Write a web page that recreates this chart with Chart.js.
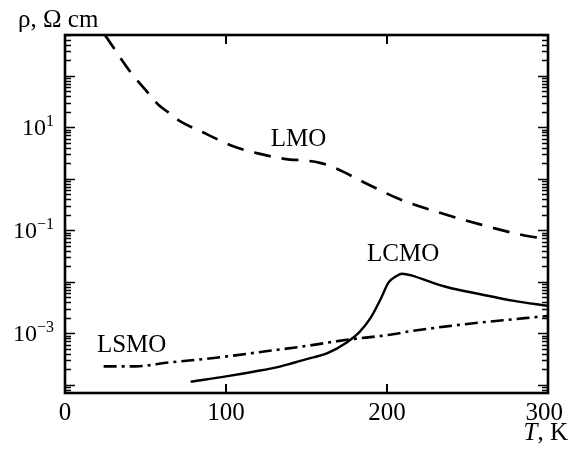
<!DOCTYPE html>
<html>
<head>
<meta charset="utf-8">
<script src="https://cdn.jsdelivr.net/npm/chart.js@4/dist/chart.umd.min.js"></script>
<style>
  html, body { margin: 0; padding: 0; background: #fff; }
  #wrap { width: 574px; height: 453px; position: relative; }
</style>
</head>
<body>
<div id="wrap"><canvas id="c"></canvas></div>
<script>
// ---- data ----
const lmoT   = [24.8, 40.4, 51.7, 58, 64, 71.4, 88, 104.5, 121.1, 139.8, 147.8, 158.4, 167.7, 187.4, 208, 232.9, 257.8, 282.6, 300];
const lmoRho = [615, 120, 45.8, 27.2, 19.5, 13.1, 7.33, 4.25, 3.03, 2.35, 2.28, 2.03, 1.61, 0.80, 0.40, 0.219, 0.130, 0.083, 0.067];

const lcmoT   = [78, 100, 117, 134, 150, 163, 175, 183, 190, 196, 201, 205.6, 209.3, 216, 227, 237, 258, 279, 300];
const lcmoRho = [1.16e-4, 1.47e-4, 1.81e-4, 2.30e-4, 3.18e-4, 4.16e-4, 6.70e-4, 1.07e-3, 2.04e-3, 4.61e-3, 9.8e-3, 1.28e-2, 1.44e-2, 1.31e-2, 9.95e-3, 7.96e-3, 5.75e-3, 4.27e-3, 3.42e-3];

const lsmoT   = [24, 44, 65, 86, 107, 127, 148, 175, 200, 216, 237, 258, 279, 300];
const lsmoRho = [2.30e-4, 2.30e-4, 2.75e-4, 3.18e-4, 3.80e-4, 4.61e-4, 5.61e-4, 7.52e-4, 9.27e-4, 1.12e-3, 1.37e-3, 1.63e-3, 1.89e-3, 2.19e-3];

const seriesNames = ['LMO', 'LCMO', 'LSMO'];
// label anchor points in data coordinates (T, rho)
const labelT   = [145, 210, 41.4];
const labelRho = [4.25, 0.025, 4.35e-4];

const xTickValues = [0, 100, 200, 300];
const xTickLabels = ['0', '100', '200', '300'];
const yLabelExps  = [1, -1, -3];
const xMin = 0, xMax = 300;
const yMin = 7.3e-5, yMax = 612;
const xTitle = ['T', ', K'];
const yTitle = 'ρ, Ω cm';

const pts = (xs, ys) => xs.map((x, i) => ({ x: x, y: ys[i] }));
const SERIF = '"Liberation Serif", "DejaVu Serif", serif';

const framePlugin = {
  id: 'frame',
  afterDatasetsDraw(chart) {
    const { ctx, chartArea: a, scales } = chart;
    const xs = scales.x, ys = scales.y;
    ctx.save();
    ctx.strokeStyle = '#000';
    ctx.lineCap = 'butt';
    ctx.lineWidth = 1.6;
    for (let e = -6; e <= 3; e++) {
      for (let m = 1; m <= 9; m++) {
        const v = m * Math.pow(10, e);
        if (v < yMin || v > yMax) continue;
        const y = Math.round(ys.getPixelForValue(v)) + 0.5;
        const len = m === 1 ? 10 : 6;
        ctx.beginPath();
        ctx.moveTo(a.left, y); ctx.lineTo(a.left + len, y);
        ctx.moveTo(a.right, y); ctx.lineTo(a.right - len, y);
        ctx.stroke();
      }
    }
    ctx.lineWidth = 2;
    xTickValues.forEach(v => {
      const x = Math.round(xs.getPixelForValue(v));
      ctx.beginPath();
      ctx.moveTo(x, a.bottom); ctx.lineTo(x, a.bottom - 9);
      ctx.moveTo(x, a.top); ctx.lineTo(x, a.top + 9);
      ctx.stroke();
    });
    ctx.lineWidth = 2.6;
    ctx.strokeRect(a.left, a.top, a.right - a.left, a.bottom - a.top);
    ctx.restore();
  },
  afterDraw(chart) {
    const { ctx, scales } = chart;
    const xs = scales.x, ys = scales.y;
    ctx.save();
    ctx.fillStyle = '#000';
    ctx.font = '25px ' + SERIF;
    ctx.textBaseline = 'alphabetic';
    ctx.textAlign = 'center';
    xTickValues.forEach((v, i) => {
      let x = xs.getPixelForValue(v);
      const w = ctx.measureText(xTickLabels[i]).width;
      x = Math.min(x, 563 - w / 2);
      ctx.fillText(xTickLabels[i], x, 420);
    });
    yLabelExps.forEach(n => {
      const y = ys.getPixelForValue(Math.pow(10, n));
      const sup = (n < 0 ? '\u2212' : '') + Math.abs(n);
      ctx.font = '16px ' + SERIF;
      const sw = ctx.measureText(sup).width;
      ctx.textAlign = 'right';
      ctx.fillText(sup, 54, y - 1);
      ctx.font = '24px ' + SERIF;
      ctx.fillText('10', 54 - sw, y + 7.5);
    });
    ctx.font = '25px ' + SERIF;
    ctx.textAlign = 'left';
    ctx.fillText(yTitle, 18, 27);
    ctx.textAlign = 'right';
    const restW = ctx.measureText(xTitle[1]).width;
    ctx.fillText(xTitle[1], 568, 440);
    ctx.font = 'italic 25px ' + SERIF;
    ctx.fillText(xTitle[0], 568 - restW, 440);
    ctx.font = '25px ' + SERIF;
    ctx.textAlign = 'center';
    seriesNames.forEach((name, i) => {
      ctx.fillText(name, xs.getPixelForValue(labelT[i]), ys.getPixelForValue(labelRho[i]));
    });
    ctx.restore();
  }
};

new Chart(document.getElementById('c'), {
  type: 'scatter',
  data: {
    datasets: [
      { label: seriesNames[0], data: pts(lmoT, lmoRho), showLine: true, borderColor: '#000',
        borderWidth: 2.7, borderDash: [17, 11], pointRadius: 0, cubicInterpolationMode: 'monotone' },
      { label: seriesNames[1], data: pts(lcmoT, lcmoRho), showLine: true, borderColor: '#000',
        borderWidth: 2.4, pointRadius: 0, cubicInterpolationMode: 'monotone' },
      { label: seriesNames[2], data: pts(lsmoT, lsmoRho), showLine: true, borderColor: '#000',
        borderWidth: 2.6, borderDash: [13, 5, 3, 5], pointRadius: 0, cubicInterpolationMode: 'monotone' }
    ]
  },
  options: {
    responsive: true,
    maintainAspectRatio: false,
    animation: false,
    layout: { padding: { left: 65, top: 35, right: 26, bottom: 60 } },
    plugins: { legend: { display: false }, tooltip: { enabled: false } },
    scales: {
      x: { type: 'linear', min: xMin, max: xMax, display: false },
      y: { type: 'logarithmic', min: yMin, max: yMax, display: false }
    }
  },
  plugins: [framePlugin]
});
</script>
</body>
</html>
